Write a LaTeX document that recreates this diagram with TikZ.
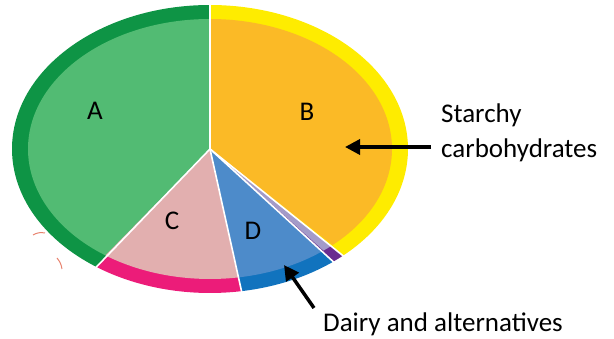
\documentclass[tikz,border=0pt]{standalone}
\usepackage{fontspec}
\setmainfont{Carlito}
\usetikzlibrary{arrows.meta}
\definecolor{rimA}{HTML}{0E9445}
\definecolor{inA}{HTML}{52BB73}
\definecolor{rimB}{HTML}{FEEC00}
\definecolor{inB}{HTML}{FBBA26}
\definecolor{rimC}{HTML}{EC1C79}
\definecolor{inC}{HTML}{E2AFAF}
\definecolor{rimD}{HTML}{1173BE}
\definecolor{inD}{HTML}{4D8BCA}
\definecolor{rimP}{HTML}{6A2C90}
\definecolor{inP}{HTML}{A39BC8}
\definecolor{artif}{HTML}{E8836E}
\newcommand\mypieslice[4]{%
  \fill[#3] (O) -- ++(#1:198pt and 144pt) arc[start angle=#1, end angle=#2, x radius=198pt, y radius=144pt] -- cycle;
  \fill[#4] (O) -- ++(#1:182pt and 130pt) arc[start angle=#1, end angle=#2, x radius=182pt, y radius=130pt] -- cycle;}
\begin{document}
\begin{tikzpicture}[x=1pt,y=1pt,
  lab/.style={font=\fontsize{27}{30}\selectfont, inner sep=0pt},
  arr/.style={line width=3.5pt, -{Triangle[length=15pt,width=15pt]}},
  sep/.style={white, line width=1.6pt},
  artline/.style={artif, line width=1pt}]
\useasboundingbox (0,0) rectangle (614,339);
\coordinate (O) at (210,190);
\mypieslice{90}{234.9}{rimA}{inA}
\mypieslice{234.9}{279.2}{rimC}{inC}
\mypieslice{279.2}{308.6}{rimD}{inD}
\mypieslice{308.6}{312.3}{rimP}{inP}
\mypieslice{312.3}{450}{rimB}{inB}
\foreach \a in {90,234.9,279.2,308.6,312.3}
  \draw[sep] (O) -- ++(\a:200pt and 146pt);
% faint artefact
\draw[artline] (33,104) to[bend left=20] (45,106);
\draw[artline] (57,81) to[bend left=15] (62,70);
% slice letters
\node[lab] (A) at (95,228) {A};
\node[lab] (B) at (307,227) {B};
\node[lab] (C) at (172,118) {C};
\node[lab] (D) at (253,108) {D};
% labels
\node[lab, anchor=base west] (st1) at (441,216) {Starchy};
\node[lab, anchor=base west] (st2) at (441,181) {carbohydrates};
\node[lab, anchor=base west] (dairy) at (323,7) {Dairy and alternatives};
\coordinate (tailS) at (431,192);
\coordinate (tipS) at (345,192);
\coordinate (tailD) at (314,31);
\coordinate (tipD) at (284,74);
\draw[arr] (tailS) -- (tipS);
\draw[arr] (tailD) -- (tipD);
\end{tikzpicture}
\end{document}
